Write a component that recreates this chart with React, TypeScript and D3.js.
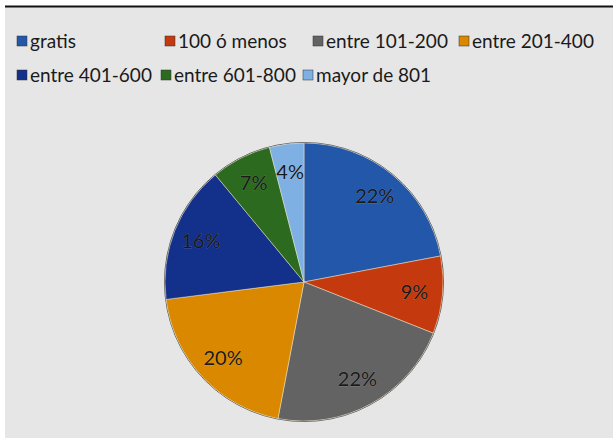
import React from "react";
import * as d3 from "d3";

const categories = ["gratis", "100 ó menos", "entre 101-200", "entre 201-400", "entre 401-600", "entre 601-800", "mayor de 801"];
const values = [22, 9, 22, 20, 16, 7, 4];
const colors = ["#2357aa", "#c4390d", "#636363", "#d98800", "#13308a", "#2b6a1f", "#7fb0e3"];
const legendRows = [[0, 1, 2, 3], [4, 5, 6]];
const legendX = [[17, 165, 313, 459], [17, 161, 303]];

const W = 613, H = 438;
const cx = 304, cy = 282, R = 139, labelR = 111;

export default function App() {
  const pie = d3.pie<number>().sort(null).value((d) => d);
  const arcs = pie(values);
  const arc = d3.arc<d3.PieArcDatum<number>>().innerRadius(0).outerRadius(R);
  const lab = d3.arc<d3.PieArcDatum<number>>().innerRadius(labelR).outerRadius(labelR);
  const font = "Lato, 'Open Sans', sans-serif";
  return (
    <svg width={W} height={H} style={{ position: "absolute", left: 0, top: 0 }}>
      <rect x={0} y={0} width={W} height={H} fill="#ffffff" />
      <rect x={5} y={7} width={W - 5} height={H - 7} fill="#e6e6e6" />
      <line x1={5} x2={W} y1={6.5} y2={6.5} stroke="#111" strokeWidth={2} />
      {legendRows.map((row, ri) =>
        row.map((ci, k) => (
          <g key={ci} transform={`translate(${legendX[ri][k]},${41 + ri * 34})`}>
            <rect x={0} y={-5} width={10} height={10} fill={colors[ci]} stroke="#333" strokeWidth={0.5} />
            <text x={13} y={0} dy="0.35em" fontFamily={font} fontSize={19} fill="#1a1a1a">
              {categories[ci]}
            </text>
          </g>
        ))
      )}
      <g transform={`translate(${cx},${cy})`}>
        <circle r={R + 0.5} fill="none" stroke="#555" strokeWidth={1} />
        {arcs.map((a, i) => (
          <path key={i} d={arc(a) || ""} fill={colors[i]} stroke="#f0e6c8" strokeWidth={0.7} strokeOpacity={0.7} />
        ))}
        {arcs.map((a, i) => {
          const [x, y] = lab.centroid(a);
          return (
            <text key={i} x={x} y={y} dy="0.35em" textAnchor="middle" fontFamily={font} fontSize={20}
              fill="#1a1a1a" stroke="#ffffff" strokeWidth={0.5} strokeOpacity={0.3} paintOrder="stroke">
              {values[i]}%
            </text>
          );
        })}
      </g>
    </svg>
  );
}
